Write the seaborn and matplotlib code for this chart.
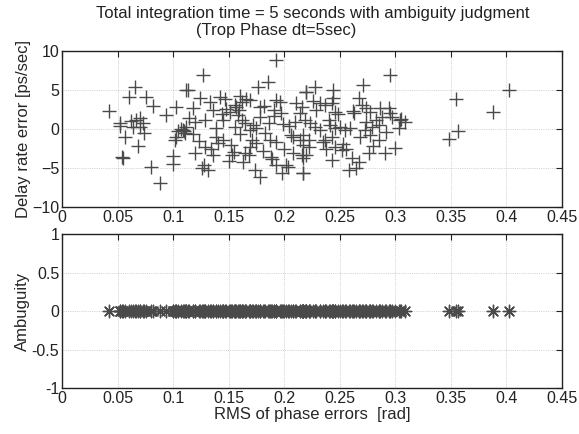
import matplotlib
matplotlib.use("Agg")
import matplotlib.pyplot as plt
import numpy as np
import pandas as pd
import seaborn as sns

# RMS of phase errors [rad] and delay rate error [ps/sec]
rms_err = [0.042, 0.066, 0.060, 0.076, 0.082, 0.052, 0.052, 0.067, 0.070, 0.073,
           0.064, 0.094, 0.103, 0.113, 0.068, 0.054, 0.055, 0.080, 0.088, 0.100,
           0.100, 0.102, 0.103, 0.104, 0.107, 0.109, 0.110, 0.114, 0.193, 0.127,
           0.185, 0.176, 0.112, 0.142, 0.133, 0.118, 0.136, 0.157, 0.162, 0.169,
           0.178, 0.193, 0.196, 0.191, 0.191, 0.211, 0.220, 0.214, 0.210, 0.208,
           0.214, 0.120, 0.129, 0.112, 0.111, 0.145, 0.139, 0.139, 0.140, 0.145,
           0.129, 0.120, 0.136, 0.126, 0.153, 0.156, 0.162, 0.165, 0.169, 0.171,
           0.175, 0.169, 0.165, 0.168, 0.163, 0.178, 0.183, 0.187, 0.193, 0.193,
           0.198, 0.202, 0.208, 0.217, 0.220, 0.178, 0.175, 0.159, 0.151, 0.156,
           0.295, 0.271, 0.228, 0.220, 0.244, 0.244, 0.267, 0.243, 0.237, 0.216,
           0.229, 0.246, 0.274, 0.277, 0.286, 0.294, 0.295, 0.297, 0.304, 0.309,
           0.303, 0.283, 0.285, 0.279, 0.274, 0.273, 0.277, 0.285, 0.276, 0.291,
           0.267, 0.265, 0.261, 0.256, 0.252, 0.255, 0.250, 0.259, 0.246, 0.243,
           0.246, 0.243, 0.237, 0.232, 0.228, 0.223, 0.219, 0.217, 0.222, 0.217,
           0.222, 0.216, 0.217, 0.217, 0.240, 0.241, 0.402, 0.355, 0.388, 0.356,
           0.348, 0.062, 0.070, 0.074, 0.057, 0.128, 0.131, 0.123, 0.148, 0.152,
           0.158, 0.160, 0.166, 0.172, 0.181, 0.186, 0.189, 0.197, 0.200, 0.204,
           0.206, 0.147, 0.150, 0.155, 0.160, 0.174, 0.182, 0.188, 0.199, 0.203,
           0.232, 0.238, 0.248, 0.253, 0.262, 0.268, 0.270, 0.280, 0.288, 0.292,
           0.300, 0.305, 0.258, 0.263, 0.235, 0.226, 0.118, 0.124, 0.134, 0.144]
delay_err = [2.35, 5.4, 4.1, 4.05, 3.0, 0.8, 0.4, 1.15, 1.37, 0.73,
             0.2, 1.8, 2.86, 5.0, -2.2, -3.55, -3.76, -4.9, -6.9, -3.46,
             -4.5, -1.4, -1.0, -0.2, 0.0, -0.1, -0.3, 1.37, 8.85, 6.9,
             6.07, 5.4, 5.0, 4.14, 3.5, 2.65, 2.44, 2.86, 3.5, 3.7,
             2.86, 3.7, 3.5, 1.67, 2.44, 3.3, 4.8, 2.0, 0.94, -0.98,
             -1.41, 0.94, 1.15, 0.3, -0.55, 1.15, 0.1, -0.98, -1.84, -1.41,
             -2.27, -3.1, -3.33, -5.0, -3.33, 0.3, 1.15, 0.73, -0.13, -1.41,
             -1.84, -2.27, -3.1, -3.33, -4.2, -6.1, -0.55, -1.41, -1.63, -4.6,
             -5.7, -4.6, -3.1, -5.7, -3.33, 1.58, 0.1, 2.44, 2.22, 3.07,
             6.9, 5.64, 5.4, 4.8, 5.0, 3.93, 3.93, 3.3, 3.07, 2.86,
             2.44, 2.22, 2.65, 2.22, 2.65, 2.65, 2.0, 1.58, 1.15, 0.94,
             0.1, 1.15, 0.5, 0.3, 0.94, -0.13, -0.77, -1.41, -3.1, -3.1,
             -4.2, -5.0, -3.76, -2.5, -2.7, -0.13, 0.3, 0.1, 0.1, -0.98,
             -2.27, -3.97, -1.41, -0.13, 0.3, 0.73, 1.15, -0.77, -1.41, -2.05,
             -2.27, -3.33, -3.76, -5.7, 1.15, 0.5, 5.0, 3.8, 2.14, -0.2,
             -1.3, 1.0, 0.3, -0.5, -1.0, -4.6, -5.3, -1.5, 2.6, -2.0,
             1.8, -0.6, 3.9, 0.5, -2.8, 0.8, -3.9, 2.1, -2.6, 0.4,
             -0.8, 3.8, -4.1, -2.9, 4.2, -5.2, 2.9, -3.6, 0.6, -4.9,
             3.4, -2.5, 1.9, -1.9, 2.3, -1.0, 3.1, -2.2, 1.6, -0.4,
             -2.4, 1.3, -5.3, 2.1, -1.6, 3.6, -0.6, 4.0, -2.6, 1.9]
ambiguity = [0] * len(rms_err)

df = pd.DataFrame({"rms": rms_err, "delay": delay_err, "amb": ambiguity})

sns.set_style("white")
plt.rcParams["font.family"] = ["Liberation Sans", "DejaVu Sans"]
fs = 12

fig = plt.figure(figsize=(5.79, 4.34), dpi=100)
ax1 = fig.add_axes([0.1071, 0.523, 0.8636, 0.3594])
ax2 = fig.add_axes([0.1071, 0.106, 0.8636, 0.3548])

mark_col = "#4a4a4a"
sns.scatterplot(data=df, x="rms", y="delay", ax=ax1, marker="+", s=110,
                color=mark_col, linewidth=1.0, legend=False)
sns.scatterplot(data=df, x="rms", y="amb", ax=ax2, marker=(8, 2, 0), s=80,
                color=mark_col, linewidth=1.0, legend=False)

xt = [0, 0.05, 0.1, 0.15, 0.2, 0.25, 0.3, 0.35, 0.4, 0.45]
xtl = ["0", "0.05", "0.1", "0.15", "0.2", "0.25", "0.3", "0.35", "0.4", "0.45"]
for ax in (ax1, ax2):
    ax.set_xlim(0, 0.45)
    ax.set_xticks(xt)
    ax.set_xticklabels(xtl)
    ax.grid(True, color="#b0b0b0", linewidth=0.5, linestyle=":")
    ax.set_axisbelow(True)
    ax.tick_params(direction="in", length=4, color="#222222", labelsize=11.5,
                   top=True, right=True, labelcolor="#222222", pad=2)
    for sp in ax.spines.values():
        sp.set_color("#222222")
        sp.set_linewidth(1.0)

ax1.set_ylim(-10, 10)
ax1.set_yticks([-10, -5, 0, 5, 10])
ax1.set_xlabel("")
ax1.set_ylabel("Delay rate error [ps/sec]", fontsize=fs, labelpad=1)

ax2.set_ylim(-1, 1)
ax2.set_yticks([-1, -0.5, 0, 0.5, 1])
ax2.set_yticklabels(["-1", "-0.5", "0", "0.5", "1"])
ax2.set_xlabel("RMS of phase errors  [rad]", fontsize=fs, labelpad=1)
ax2.set_ylabel("Ambuguity", fontsize=fs, labelpad=1)

fig.text(0.541, 0.970, "Total integration time = 5 seconds with ambiguity judgment",
         ha="center", va="center", fontsize=fs, color="#222222")
fig.text(0.477, 0.929, "(Trop Phase dt=5sec)",
         ha="center", va="center", fontsize=fs, color="#222222")

fig.savefig("out.png", dpi=100)
